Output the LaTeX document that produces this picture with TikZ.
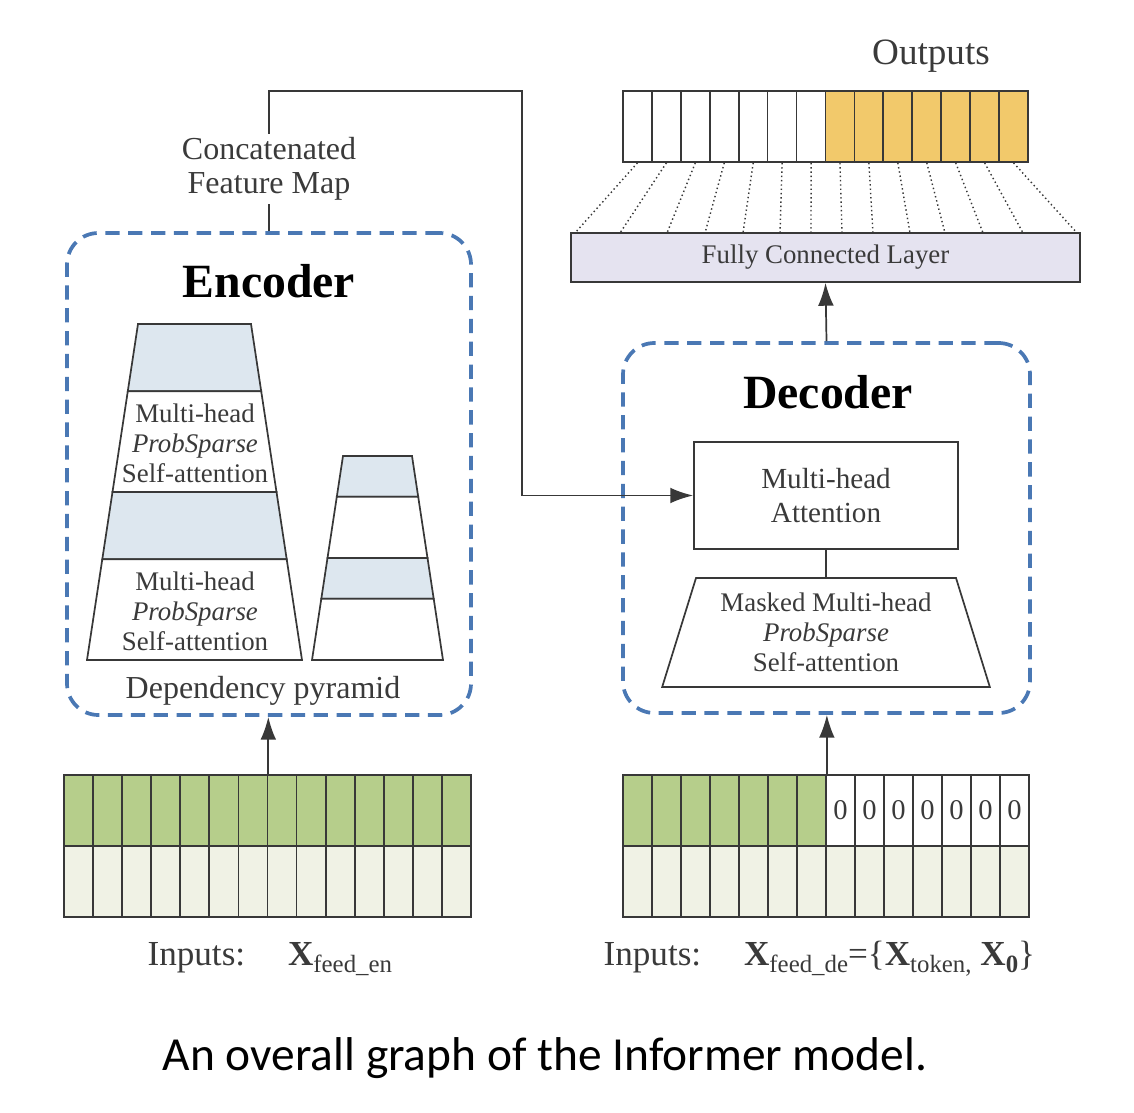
\documentclass[tikz,border=0pt]{standalone}
\usepackage{fontspec}
\setmainfont{Liberation Serif}
\newfontfamily\captionfont{Carlito}
\usetikzlibrary{arrows.meta,shapes.geometric,calc}

\definecolor{dashblue}{HTML}{4A78B4}
\definecolor{pyrblue}{HTML}{DDE7EF}
\definecolor{ingreen}{HTML}{B6CE8B}
\definecolor{inlight}{HTML}{F0F2E5}
\definecolor{outgold}{HTML}{F2C96B}
\definecolor{fclav}{HTML}{E5E3F0}
\definecolor{textgray}{HTML}{3A3A3A}
\definecolor{linegray}{HTML}{383838}

\newcommand{\pxl}{0.35pt}
\newcommand{\lowtext}[1]{\raisebox{-0.45ex}{\fontsize{8.7}{9}\selectfont #1}}

\tikzset{
  block/.style = {draw = linegray, line width = 0.6pt, rectangle, inner sep = 0pt},
  cellbox/.style = {block, minimum width = 29*\pxl, minimum height = 71*\pxl},
  stage/.style = {draw = dashblue, line width = 1.3pt, dash pattern = on 5pt off 3pt, rounded corners = 11pt, rectangle},
  band/.style = {draw = linegray, line width = 0.6pt},
  bandtext/.style = {text = textgray, font = \fontsize{9.4}{10.5}\selectfont, align = center},
  title/.style = {font = \fontsize{16.7}{20}\selectfont\bfseries, anchor = base},
  plaintext/.style = {text = textgray, font = \fontsize{11.2}{12}\selectfont},
  inputtext/.style = {text = textgray, font = \fontsize{12.3}{14}\selectfont, anchor = base west, inner sep = 0pt},
  link/.style = {draw = linegray, line width = 0.6pt},
  arrowline/.style = {link, -{Latex[length = 8pt, width = 5.5pt]}},
  fanline/.style = {draw = linegray, line width = 0.5pt, densely dotted},
}

\begin{document}
\begin{tikzpicture}[x = \pxl, y = -\pxl]
        \useasboundingbox (0, 0) rectangle (1134, 1112);

        % Input rows
        \foreach \i in {1,...,14} {
            \node [cellbox, fill = ingreen] (ein\i) at ({64 + 29.07*(\i - 0.5)}, 810.5) {};
            \node [cellbox, fill = inlight] (eil\i) at ({64 + 29.07*(\i - 0.5)}, 881.5) {};
            \ifnum\i<8
                \node [cellbox, fill = ingreen] (din\i) at ({623 + 29*(\i - 0.5)}, 810.5) {};
            \else
                \node [cellbox, fill = white, text = textgray, font = \fontsize{10}{11}\selectfont] (din\i) at ({623 + 29*(\i - 0.5)}, 810.5) {0};
            \fi
            \node [cellbox, fill = inlight] (dil\i) at ({623 + 29*(\i - 0.5)}, 881.5) {};
        }
        \node [inputtext] (inen) at (147, 965) {Inputs:\hspace{15pt}\textbf{X}\lowtext{feed\_en}};
        \node [inputtext] (inde) at (603, 965) {Inputs:\hspace{15pt}\textbf{X}\lowtext{feed\_de}=\{\textbf{X}\lowtext{token,} \textbf{X}\lowtext{\textbf{0}}\}};

        % Output row
        \foreach \i in {1,...,14} {
            \ifnum\i<8
                \node [cellbox, fill = white] (out\i) at ({623 + 28.93*(\i - 0.5)}, 126.5) {};
            \else
                \node [cellbox, fill = outgold] (out\i) at ({623 + 28.93*(\i - 0.5)}, 126.5) {};
            \fi
        }
        \node [text = textgray, font = \fontsize{13}{15}\selectfont, anchor = base] (outlabel) at (931, 65) {Outputs};

        % Fully connected layer
        \node [block, fill = fclav, minimum width = 509*\pxl, minimum height = 49*\pxl, bandtext] (fc) at (825.5, 257.5) {Fully Connected Layer};
        \foreach \i/\x in {1/575, 2/620, 3/667, 4/705, 5/743, 6/780, 7/811, 8/842, 9/873, 10/910, 11/945, 12/983, 13/1023, 14/1077} {
            \coordinate (fcin\i) at (\x, 233);
            \draw [fanline] (out\i.south) -- (fcin\i);
        }

        % Encoder
        \node [stage, minimum width = 404*\pxl, minimum height = 482*\pxl] (enc) at (269, 474) {};
        \node [title] (enctitle) at (269, 298) {Encoder};
        \coordinate (bigTL) at (138, 324);
        \coordinate (bigTR) at (251, 324);
        \coordinate (bigBL) at (87, 660);
        \coordinate (bigBR) at (302, 660);
        \coordinate (smallTL) at (343, 456);
        \coordinate (smallTR) at (412, 456);
        \coordinate (smallBL) at (312, 660);
        \coordinate (smallBR) at (443, 660);
        \foreach \p in {big, small} {
            \foreach \a/\b/\c in {0/0.2/pyrblue, 0.2/0.5/white, 0.5/0.7/pyrblue, 0.7/1/white} {
                \filldraw [band, fill = \c] ($(\p TL)!\a!(\p BL)$) -- ($(\p TR)!\a!(\p BR)$) -- ($(\p TR)!\b!(\p BR)$) -- ($(\p TL)!\b!(\p BL)$) -- cycle;
            }
        }
        \node [bandtext] (attn1) at (195, 443) {Multi-head\\\textit{ProbSparse}\\Self-attention};
        \node [bandtext] (attn2) at (195, 611) {Multi-head\\\textit{ProbSparse}\\Self-attention};
        \node [plaintext, anchor = base] (dep) at (263, 698) {Dependency pyramid};

        % Decoder
        \node [stage, minimum width = 407*\pxl, minimum height = 370*\pxl] (dec) at (826.5, 528) {};
        \node [title] (dectitle) at (828, 408) {Decoder};
        \node [block, minimum width = 264*\pxl, minimum height = 107*\pxl, text = textgray, font = \fontsize{10.2}{11.7}\selectfont, align = center] (attn) at (826, 495.5) {Multi-head\\Attention};
        \node [trapezium, draw = linegray, line width = 0.6pt, trapezium left angle = 73, trapezium right angle = 73, trapezium stretches = true, minimum width = 328*\pxl, minimum height = 109*\pxl, bandtext] (masked) at (826, 632.5) {Masked Multi-head\\\textit{ProbSparse}\\Self-attention};

        % Concatenated feature map
        \node [plaintext, align = center, inner sep = 1pt] (concat) at (269, 169) {Concatenated\\Feature Map};
        \coordinate (bend) at (522, 91);

        % Draw the links
        \draw [link] (enc.north) -- (concat.south);
        \draw [arrowline] (concat.north) |- (bend) |- (attn.west);
        \draw [link] (attn.south) -- (masked.north);
        \draw [arrowline] (ein7.north east) -- (ein7.north east |- enc.south);
        \draw [arrowline] (din7.north east) -- (din7.north east |- dec.south);
        \draw [arrowline] (dec.north) -- (fc.south);

        % Caption
        \node [font = \captionfont\fontsize{16.6}{19}\selectfont, anchor = base] (caption) at (545, 1070) {An overall graph of the Informer model.};

    \end{tikzpicture}
\end{document}
